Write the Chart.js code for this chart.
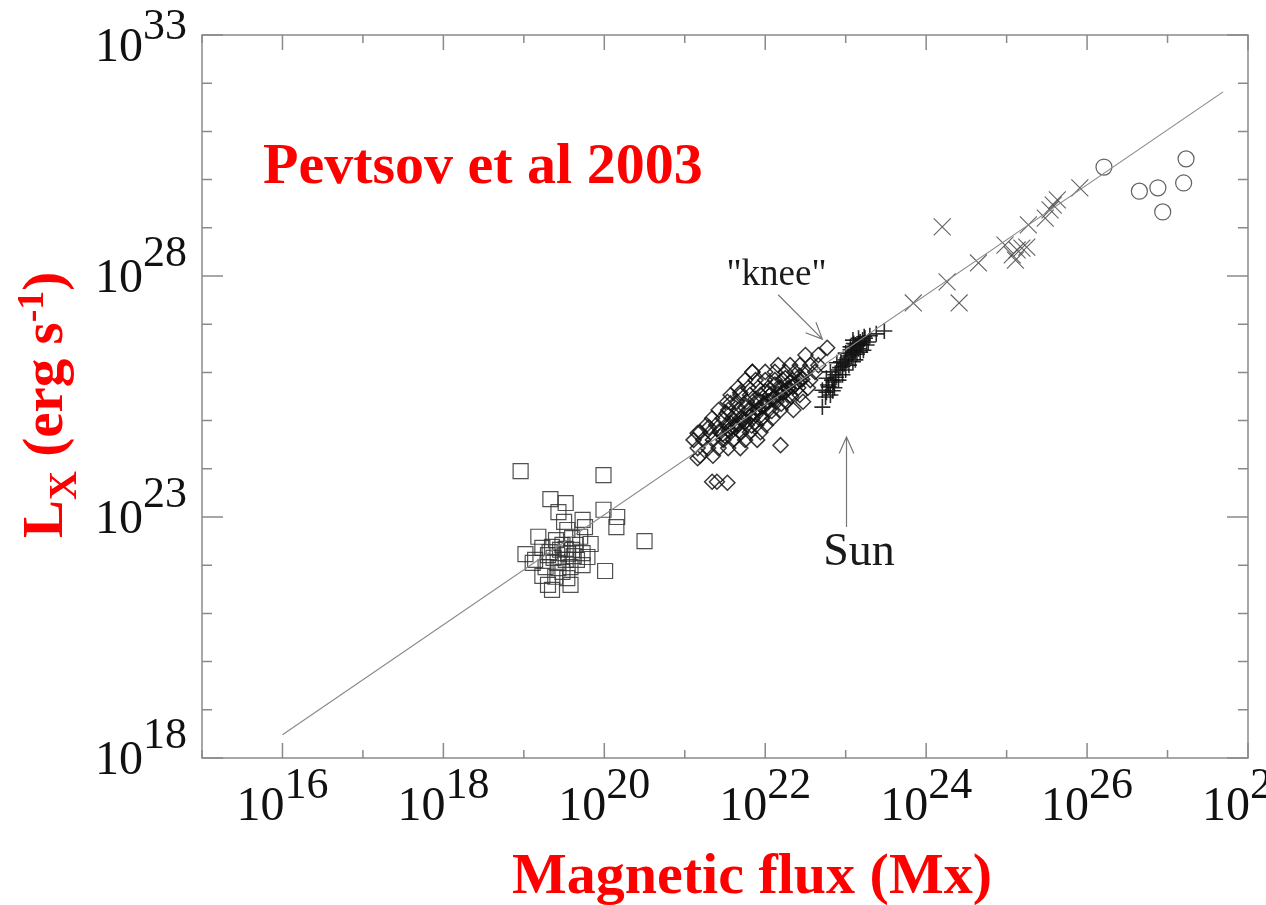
<!DOCTYPE html>
<html>
<head>
<meta charset="utf-8">
<title>X-ray luminosity vs magnetic flux</title>
<script src="https://cdn.jsdelivr.net/npm/chart.js@4.4.1/dist/chart.umd.min.js"></script>
<style>
  html, body { margin: 0; padding: 0; background: #fff; }
  #wrap { width: 1266px; height: 905px; }
</style>
</head>
<body>
<div id="wrap"><canvas id="chart" width="1266" height="905"></canvas></div>
<script>
// all values are [log10 flux (Mx), log10 Lx (erg/s)]

// X-ray bright points (squares)
const brightPoints = [
  [18.96, 23.95], [19.99, 23.87], [19.33, 23.37], [19.52, 23.29], [19.43, 23.10],
  [19.99, 23.15], [20.16, 23.00], [20.15, 22.79], [20.50, 22.50], [20.01, 21.88],
  [19.73, 22.94], [19.50, 22.90], [19.76, 22.79], [19.54, 22.73], [19.18, 22.59],
  [19.70, 22.59], [19.83, 22.44], [19.02, 22.23], [19.23, 22.36], [19.35, 22.38],
  [19.48, 22.42], [19.60, 22.32], [19.73, 22.25], [19.14, 22.11], [19.37, 22.15],
  [19.52, 22.11], [19.66, 22.11], [19.79, 22.17], [19.27, 21.96], [19.43, 21.94],
  [19.58, 21.96], [19.73, 22.00], [19.23, 21.78], [19.39, 21.76], [19.54, 21.73],
  [19.30, 21.59], [19.58, 21.59], [19.35, 21.49], [19.11, 22.05], [19.45, 22.32],
  [19.60, 22.56], [19.30, 22.21], [19.52, 22.34], [19.64, 22.42], [19.40, 22.52],
  [19.32, 22.27], [19.55, 22.24], [19.42, 22.05], [19.62, 22.19], [19.48, 21.86]
];

// quiet Sun / active regions (diamonds)
const activeRegions = [
  [22.50, 26.36], [22.66, 26.36], [22.77, 26.51],
  [22.16, 26.15], [22.31, 26.15], [22.43, 26.15], [22.56, 26.15], [22.66, 26.15],
  [21.84, 26.01], [22.00, 26.01], [22.12, 26.01], [22.25, 26.01], [22.37, 26.01], [22.50, 26.01], [22.62, 26.01],
  [21.75, 25.84], [21.88, 25.84], [22.00, 25.84], [22.12, 25.84], [22.22, 25.84], [22.34, 25.84], [22.43, 25.84], [22.56, 25.84],
  [21.66, 25.68], [21.79, 25.68], [21.91, 25.68], [22.04, 25.68], [22.16, 25.68], [22.29, 25.68], [22.41, 25.68], [22.53, 25.68],
  [21.57, 25.53], [21.69, 25.53], [21.81, 25.53], [21.94, 25.53], [22.06, 25.53], [22.19, 25.53], [22.31, 25.53], [22.43, 25.53],
  [21.53, 25.39], [21.65, 25.39], [21.77, 25.39], [21.89, 25.39], [22.01, 25.39], [22.14, 25.39], [22.26, 25.39], [22.47, 25.39],
  [21.42, 25.22], [21.54, 25.22], [21.66, 25.22], [21.79, 25.22], [21.91, 25.22], [22.04, 25.22], [22.19, 25.22], [22.35, 25.22],
  [21.34, 25.05], [21.47, 25.05], [21.59, 25.05], [21.71, 25.05], [21.84, 25.05], [21.96, 25.05], [22.09, 25.05],
  [21.27, 24.91], [21.39, 24.91], [21.52, 24.91], [21.64, 24.91], [21.77, 24.91], [21.89, 24.91], [22.01, 24.91],
  [21.19, 24.76], [21.32, 24.76], [21.44, 24.76], [21.57, 24.76], [21.69, 24.76], [21.81, 24.76], [21.94, 24.76],
  [21.11, 24.60], [21.23, 24.60], [21.35, 24.60], [21.48, 24.60], [21.60, 24.60], [21.75, 24.60], [21.90, 24.60],
  [21.16, 24.43], [21.29, 24.43], [21.42, 24.43], [21.54, 24.43], [21.69, 24.43],
  [21.19, 24.27], [21.35, 24.27], [21.16, 24.22],
  [21.16, 24.74], [21.30, 24.86], [21.52, 25.15], [21.57, 25.36], [21.84, 26.01], [21.69, 25.58],
  [22.19, 24.49], [21.34, 23.73], [21.40, 23.73], [21.53, 23.71],
  [21.44, 24.80], [21.57, 24.95], [21.69, 25.05], [21.81, 25.22], [21.94, 25.39], [22.06, 25.53],
  [22.19, 25.68], [22.31, 25.80], [22.43, 25.93], [22.00, 25.32], [21.88, 25.12], [21.75, 24.97],
  [22.12, 25.47], [22.25, 25.60], [22.37, 25.74], [21.63, 24.85], [21.50, 24.68],
  [21.47, 24.72], [21.60, 24.88], [21.72, 25.00], [21.85, 25.16], [21.97, 25.30], [22.09, 25.45],
  [22.22, 25.58], [22.34, 25.70], [22.46, 25.86], [21.55, 24.80], [21.67, 24.93], [21.80, 25.08],
  [21.92, 25.25], [22.04, 25.40], [22.16, 25.55], [22.28, 25.66], [22.40, 25.80], [21.62, 25.10],
  [21.75, 25.28], [21.88, 25.45], [22.00, 25.60], [22.12, 25.75], [22.25, 25.88], [21.70, 24.75],
  [21.83, 24.90], [21.96, 25.05], [22.08, 25.20], [22.20, 25.35], [22.32, 25.50]
];

// the Sun (pluses)
const sunPoints = [
  [22.71, 25.28], [22.75, 25.49], [22.71, 25.63], [22.78, 25.74], [22.83, 25.84],
  [22.76, 25.88], [22.87, 25.95], [22.91, 26.05], [22.81, 26.01], [22.96, 26.13],
  [22.89, 26.20], [23.00, 26.26], [23.04, 26.34], [23.09, 26.42], [23.06, 26.53],
  [23.12, 26.57], [23.16, 26.49], [23.18, 26.63], [23.21, 26.67], [23.24, 26.71],
  [23.14, 26.38], [23.00, 26.40], [22.94, 26.22], [23.09, 26.67], [23.26, 26.57],
  [23.30, 26.76], [23.28, 26.63], [23.12, 26.26], [23.04, 26.15], [22.96, 25.95],
  [22.86, 25.68], [22.91, 25.84], [23.00, 26.05], [23.16, 26.71], [23.22, 26.46],
  [22.76, 25.59], [22.81, 25.53], [23.09, 26.22], [23.18, 26.42], [23.38, 26.80],
  [23.48, 26.86], [22.93, 26.10], [22.98, 26.18], [23.02, 26.30], [23.07, 26.36],
  [23.11, 26.45], [23.14, 26.55], [23.20, 26.58], [23.10, 26.60], [22.85, 25.80],
  [22.88, 25.90], [22.79, 25.70], [22.84, 25.62], [23.23, 26.74], [23.17, 26.60],
  [23.06, 26.47]
];

// G, K, M dwarfs (crosses)
const dwarfStars = [
  [24.20, 29.02], [23.84, 27.44], [24.26, 27.88], [24.41, 27.44], [24.65, 28.27],
  [24.98, 28.64], [25.07, 28.44], [25.13, 28.54], [25.19, 28.58], [25.25, 28.60],
  [25.11, 28.33], [25.27, 29.06], [25.48, 29.20], [25.58, 29.47], [25.63, 29.58],
  [25.54, 29.37], [25.91, 29.83]
];

// T Tauri stars (circles)
const tTauriStars = [
  [26.21, 30.26], [26.65, 29.76], [26.88, 29.83], [27.23, 30.43], [27.20, 29.93], [26.94, 29.33]
];

// power-law fit, Lx ~ flux^1.15
const fitLine = [[16.0, 18.48], [27.69, 31.82]];

const xLabelExps = [16, 18, 20, 22, 24, 26, 28];
const yLabelExps = [18, 23, 28, 33];

const toPoints = arr => arr.map(([f, l]) => ({ x: 10 ** f, y: 10 ** l }));

const serif = '"Liberation Serif", "Times New Roman", serif';

function markSet(data, style, radius, color, width) {
  return {
    data: toPoints(data),
    pointStyle: style,
    pointRadius: radius,
    pointBorderColor: color,
    pointBackgroundColor: 'rgba(0,0,0,0)',
    pointBorderWidth: width,
    showLine: false
  };
}

// "10" with a raised exponent
function drawPower(ctx, exp, x, baseline, align, raise) {
  ctx.font = '48px ' + serif;
  const w1 = ctx.measureText('10').width;
  ctx.font = '44px ' + serif;
  const w2 = ctx.measureText(String(exp)).width;
  const start = align === 'center' ? x - (w1 + w2) / 2 : x - (w1 + w2);
  ctx.textAlign = 'left';
  ctx.textBaseline = 'alphabetic';
  ctx.font = '48px ' + serif;
  ctx.fillText('10', start, baseline);
  ctx.font = '44px ' + serif;
  ctx.fillText(String(exp), start + w1, baseline - raise);
}

function arrow(ctx, x1, y1, x2, y2) {
  const ang = Math.atan2(y2 - y1, x2 - x1);
  const head = 18, spread = 0.42;
  ctx.beginPath();
  ctx.moveTo(x1, y1);
  ctx.lineTo(x2, y2);
  ctx.moveTo(x2 - head * Math.cos(ang - spread), y2 - head * Math.sin(ang - spread));
  ctx.lineTo(x2, y2);
  ctx.lineTo(x2 - head * Math.cos(ang + spread), y2 - head * Math.sin(ang + spread));
  ctx.stroke();
}

// frame, inward ticks, power-of-ten labels, titles and notes
const decorations = {
  id: 'decorations',
  afterDraw(chart) {
    const { ctx, chartArea: a, scales: { x, y } } = chart;
    const px = e => x.getPixelForValue(10 ** e);
    const py = e => y.getPixelForValue(10 ** e);
    ctx.save();

    ctx.strokeStyle = '#8a8a8a';
    ctx.lineWidth = 1.5;
    ctx.strokeRect(a.left, a.top, a.right - a.left, a.bottom - a.top);

    ctx.beginPath();
    for (let e = 15; e <= 28; e++) {
      const len = e % 2 === 0 ? 15 : 8;
      const xp = px(e);
      ctx.moveTo(xp, a.bottom); ctx.lineTo(xp, a.bottom - len);
      ctx.moveTo(xp, a.top); ctx.lineTo(xp, a.top + len);
    }
    for (let e = 18; e <= 33; e++) {
      const len = e % 5 === 3 ? 21 : 10;
      const yp = py(e);
      ctx.moveTo(a.left, yp); ctx.lineTo(a.left + len, yp);
      ctx.moveTo(a.right, yp); ctx.lineTo(a.right - len, yp);
    }
    ctx.stroke();

    ctx.fillStyle = '#111';
    xLabelExps.forEach(e => drawPower(ctx, e, px(e), a.bottom + 62, 'center', 22));
    // the top label is nudged down so its exponent stays on the canvas
    yLabelExps.forEach(e => drawPower(ctx, e, a.left - 15, py(e) + (e === 33 ? 26 : 16), 'right', e === 33 ? 22 : 26));

    // red titles
    ctx.fillStyle = '#ff0000';
    ctx.textBaseline = 'alphabetic';
    ctx.font = 'bold 58px ' + serif;
    ctx.textAlign = 'left';
    ctx.fillText('Pevtsov et al 2003', 263, 183);
    ctx.textAlign = 'center';
    ctx.fillText('Magnetic flux (Mx)', 752, 893);

    ctx.save();
    ctx.translate(62, 538);
    ctx.rotate(-Math.PI / 2);
    ctx.textAlign = 'left';
    let cx = 0;
    const piece = (txt, size, dy) => {
      ctx.font = 'bold ' + size + 'px ' + serif;
      ctx.fillText(txt, cx, dy);
      cx += ctx.measureText(txt).width;
    };
    piece('L', 57, 0);
    piece('X', 40, 14);
    piece(' (erg s', 57, 0);
    piece('-1', 38, -19);
    piece(')', 57, 0);
    ctx.restore();

    // notes
    ctx.strokeStyle = '#777';
    ctx.lineWidth = 1.2;
    arrow(ctx, px(22.16), py(27.61), px(22.71), py(26.69));
    arrow(ctx, px(23.01), py(22.79), px(23.01), py(24.66));
    ctx.fillStyle = '#1a1a1a';
    ctx.textAlign = 'center';
    ctx.font = '37px ' + serif;
    ctx.fillText('"knee"', px(22.14), py(27.81));
    ctx.textAlign = 'left';
    ctx.font = '46px ' + serif;
    ctx.fillText('Sun', px(22.72), py(22.0));

    ctx.restore();
  }
};

new Chart(document.getElementById('chart'), {
  type: 'scatter',
  data: {
    datasets: [
      {
        data: toPoints(fitLine),
        showLine: true,
        borderColor: '#8a8a8a',
        borderWidth: 1.2,
        pointRadius: 0
      },
      markSet(brightPoints, 'rect', 10.6, 'rgba(50,50,50,0.85)', 1.2),
      markSet(activeRegions, 'rectRot', 7.5, 'rgba(20,20,20,0.85)', 1.5),
      markSet(sunPoints, 'cross', 8, 'rgba(20,20,20,0.9)', 1.6),
      markSet(dwarfStars, 'crossRot', 12, 'rgba(70,70,70,0.85)', 1.1),
      markSet(tTauriStars, 'circle', 8, 'rgba(80,80,80,0.9)', 1.2)
    ]
  },
  options: {
    responsive: false,
    devicePixelRatio: 1,
    animation: false,
    events: [],
    layout: { padding: { top: 35, right: 18, left: 0, bottom: 0 } },
    plugins: { legend: { display: false }, tooltip: { enabled: false } },
    scales: {
      x: {
        type: 'logarithmic',
        min: 1e15,
        max: 1e28,
        ticks: { display: false },
        grid: { display: false },
        border: { display: false },
        afterFit: s => { s.height = 147; }
      },
      y: {
        type: 'logarithmic',
        min: 1e18,
        max: 1e33,
        ticks: { display: false },
        grid: { display: false },
        border: { display: false },
        afterFit: s => { s.width = 202; }
      }
    }
  },
  plugins: [decorations]
});
</script>
</body>
</html>
